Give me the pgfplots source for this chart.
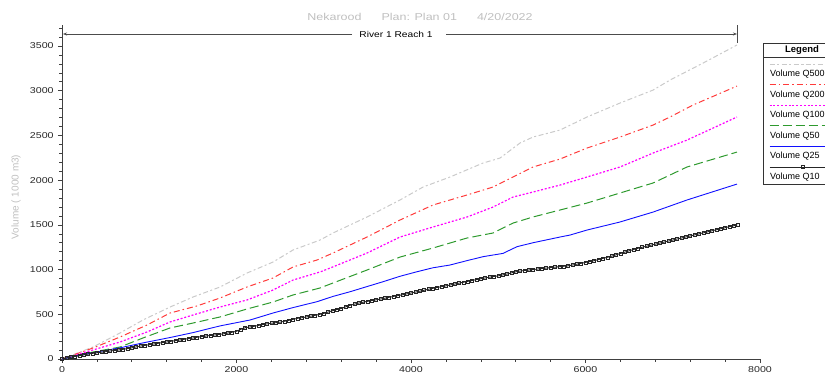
\documentclass[border=0pt]{standalone}
\usepackage{pgfplots}
\pgfplotsset{compat=1.18}
\usepackage{fontspec}
\setmainfont{Liberation Sans}
\usetikzlibrary{arrows.meta}
\definecolor{cgrey}{HTML}{CACACA}
\definecolor{cred}{HTML}{FF3B3B}
\definecolor{cmag}{HTML}{FF00FF}
\definecolor{cgreen}{HTML}{2E9A2E}
\definecolor{cblue}{HTML}{1010FF}
\begin{document}
\begin{tikzpicture}
\useasboundingbox (-62pt,-16pt) rectangle (763pt,359pt);
\clip (-62pt,-16pt) rectangle (763pt,359pt);
\begin{axis}[
 scale only axis, width=698pt, height=334pt,
 xmin=0, xmax=8000, ymin=0, ymax=3735,
 axis x line*=bottom, axis y line*=left,
 axis line style={black!75, line width=0.8pt},
 xtick={0,2000,4000,6000,8000},
 minor xtick={400,800,...,7600},
 ytick={0,500,...,3500},
 minor ytick={100,200,...,3700},
 tick align=outside,
 major tick length=4pt, minor tick length=2.5pt,
 every tick/.style={black!75, line width=0.6pt},
 tick label style={font=\fontsize{8.5}{9}\selectfont, text=black!85, xscale=1.25},
 /pgf/number format/assume math mode=true,
 /pgf/number format/1000 sep={},
 scaled ticks=false,
 clip=false,
 legend style={at={(1.01289,0.699)}, anchor=west, draw=none, fill=none,
   inner sep=0pt, outer sep=0pt, row sep=12.6pt, column sep=0pt,
   font=\fontsize{9}{10}\selectfont,
   nodes={inner sep=0pt, text height=6.5pt, text depth=1.5pt, anchor=west}},
 legend cell align=left,
 legend image code/.code={
   \path (0pt,0pt);
   \draw[overlay, mark repeat=2, mark phase=2, #1] plot coordinates {(0pt,10pt) (33pt,10pt) (200pt,10pt)};
 },
]
\addplot[color=cgrey, draw=cgrey, line width=1pt, dash pattern=on 5pt off 2.5pt on 2pt off 2.5pt] coordinates {
(0,0) (355,134) (665,291) (928,436) (1238,581) (1501,693) (1811,805) (2120,961)
(2418,1084) (2648,1219) (2957,1330) (3106,1409) (3496,1588) (3874,1778) (4138,1923)
(4447,2035) (4825,2191) (5020,2247) (5249,2415) (5398,2482) (5708,2560) (6017,2706)
(6395,2862) (6774,3007) (6968,3119) (7347,3309) (7736,3511)};
\addlegendentry{Volume Q500}
\addplot[color=cred, draw=cred, line width=1pt, dash pattern=on 6pt off 3pt on 1.5pt off 3pt] coordinates {
(0,0) (355,123) (665,246) (974,380) (1238,514) (1547,593) (1811,682) (2120,805)
(2418,906) (2648,1029) (2923,1107) (3106,1185) (3496,1364) (3874,1554) (4252,1722)
(4642,1834) (4940,1923) (5169,2035) (5398,2147) (5708,2236) (6017,2359) (6395,2482)
(6774,2616) (6968,2706) (7232,2840) (7736,3052)};
\addlegendentry{Volume Q200}
\addplot[color=cmag, draw=cmag, line width=1.2pt, dash pattern=on 2pt off 1.8pt] coordinates {
(0,0) (355,101) (665,190) (974,302) (1238,414) (1501,492) (1811,581) (2120,660)
(2418,771) (2648,883) (2957,973) (3106,1030) (3496,1185) (3874,1364) (4252,1476)
(4642,1588) (4940,1699) (5169,1811) (5398,1867) (5708,1945) (6017,2035) (6395,2147)
(6774,2303) (7163,2448) (7736,2706)};
\addlegendentry{Volume Q100}
\addplot[color=cgreen, draw=cgreen, line width=1pt, dash pattern=on 9pt off 4pt] coordinates {
(0,0) (355,78) (665,134) (928,235) (1238,347) (1501,402) (1811,470) (2120,559)
(2418,637) (2648,716) (2957,794) (3106,850) (3496,995) (3874,1140) (4252,1241)
(4642,1353) (4940,1409) (5169,1520) (5398,1588) (5708,1666) (6017,1744) (6395,1856)
(6774,1968) (7163,2147) (7736,2314)};
\addlegendentry{Volume Q50}
\addplot[color=cblue, draw=cblue, line width=0.9pt] coordinates {
(0,0) (355,70) (665,125) (928,180) (1238,240) (1501,295) (1811,370) (2155,436)
(2418,514) (2648,575) (2923,641) (3106,700) (3301,752) (3496,810) (3679,864) (3874,925)
(4069,976) (4252,1020) (4447,1051) (4642,1100) (4825,1144) (5054,1181) (5215,1256)
(5398,1300) (5708,1364) (5822,1386) (6017,1442) (6395,1532) (6774,1643) (7163,1778)
(7736,1956)};
\addlegendentry{Volume Q25}
\addplot[color=black!85, draw=black!85, line width=0.9pt, mark=square, mark size=1.5pt, mark options={solid, line width=0.5pt}] coordinates {
(0,0) (50,10) (100,20) (150,29) (200,38) (250,47) (300,55) (350,63) (400,70) (450,76)
(500,82) (550,89) (600,95) (650,101) (700,108) (750,116) (800,125) (850,135) (900,145)
(950,152) (1000,160) (1050,168) (1100,175) (1150,183) (1200,190) (1250,198) (1300,205)
(1350,213) (1400,220) (1450,228) (1500,235) (1550,243) (1600,250) (1650,257) (1700,263)
(1750,269) (1800,275) (1850,282) (1900,290) (1950,299) (2000,310) (2050,332) (2100,350)
(2150,358) (2200,365) (2250,375) (2300,385) (2350,393) (2400,400) (2450,406) (2500,412)
(2550,422) (2600,432) (2650,444) (2700,455) (2750,462) (2800,470) (2850,479) (2900,488)
(2950,499) (3000,510) (3050,525) (3100,540) (3150,553) (3200,565) (3250,583) (3300,600)
(3350,613) (3400,625) (3450,635) (3500,645) (3550,654) (3600,662) (3650,671) (3700,680)
(3750,690) (3800,700) (3850,709) (3900,718) (3950,728) (4000,738) (4050,748) (4100,758)
(4150,769) (4200,780) (4250,790) (4300,800) (4350,809) (4400,818) (4450,828) (4500,838)
(4550,848) (4600,858) (4650,868) (4700,878) (4750,888) (4800,898) (4850,907) (4900,915)
(4950,923) (5000,930) (5050,940) (5100,950) (5150,963) (5200,975) (5250,983) (5300,990)
(5350,995) (5400,1000) (5450,1006) (5500,1012) (5550,1017) (5600,1022) (5650,1027)
(5700,1032) (5750,1037) (5800,1042) (5850,1051) (5900,1060) (5950,1070) (6000,1080)
(6050,1090) (6100,1100) (6150,1112) (6200,1125) (6250,1137) (6300,1150) (6350,1165)
(6400,1180) (6450,1195) (6500,1210) (6550,1224) (6600,1238) (6650,1250) (6700,1261)
(6750,1273) (6800,1284) (6850,1296) (6900,1307) (6950,1319) (7000,1330) (7050,1342)
(7100,1353) (7150,1365) (7200,1376) (7250,1388) (7300,1399) (7350,1411) (7400,1422)
(7450,1434) (7500,1445) (7550,1457) (7600,1468) (7650,1480) (7700,1491) (7740,1500)};
\addlegendentry{Volume Q10}
\end{axis}
% title and labels
\node[text=black!25, font=\fontsize{10}{11}\selectfont, xscale=1.25] at (358pt,342pt)
  {Nekarood\hspace{1.6em}Plan: Plan 01\hspace{1.6em}4/20/2022};
\node[rotate=90, text=black!25, font=\fontsize{10}{11}\selectfont] at (-46pt,162pt) {Volume ( 1000 m3)};
% reach line
\draw[black!70, line width=0.9pt, -{Stealth[length=4pt,width=3pt]}] (290pt,325pt) -- (1pt,325pt);
\draw[black!70, line width=0.9pt, -{Stealth[length=4pt,width=3pt]}] (384pt,325pt) -- (675pt,325pt);
\draw[black!70, line width=0.9pt] (675pt,316pt) -- (675pt,334pt);
\node[font=\fontsize{8.5}{9}\selectfont, xscale=1.2] at (334pt,325pt) {River 1 Reach 1};
% legend frame
\draw[black!80, line width=1pt] (800pt,315pt) -- (701pt,315pt) -- (701pt,174pt) -- (800pt,174pt);
\draw[black!80, line width=0.6pt] (701pt,302pt) -- (800pt,302pt);
\node[font=\bfseries\fontsize{9.5}{10}\selectfont] at (740pt,308.5pt) {Legend};
\end{tikzpicture}
\end{document}
